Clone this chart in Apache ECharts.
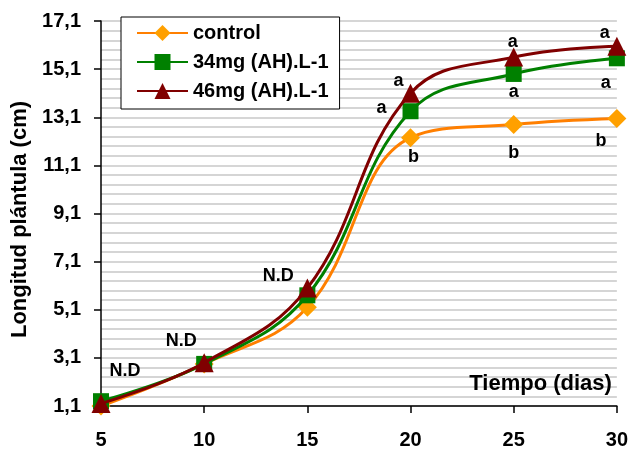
<!DOCTYPE html>
<html>
<head>
<meta charset="utf-8">
<script src="https://cdn.jsdelivr.net/npm/echarts@6/dist/echarts.min.js"></script>
<style>
html,body{margin:0;padding:0;background:#fff;}
#chart{width:631px;height:450px;}
</style>
</head>
<body>
<div id="chart"></div>
<script>
// ---- data ----
const days = [5, 10, 15, 20, 25, 30];
const seriesNames = ['control', '34mg (AH).L-1', '46mg (AH).L-1'];
const controlValues = [1.1, 2.85, 5.2, 12.25, 12.8, 13.05];
const dose34Values = [1.3, 2.85, 5.7, 13.35, 14.9, 15.55];
const dose46Values = [1.2, 2.9, 6.0, 14.1, 15.6, 16.05];
const controlLetters = ['', '', '', 'b', 'b', 'b'];
const dose34Letters = ['', '', '', 'a', 'a', 'a'];
const dose46Letters = ['N.D', 'N.D', 'N.D', 'a', 'a', 'a'];
const yTicks = [1.1, 3.1, 5.1, 7.1, 9.1, 11.1, 13.1, 15.1, 17.1];
const xTicks = [5, 10, 15, 20, 25, 30];

// ---- styling (label offsets in px, relative to the marker) ----
const controlOffsets = [[0,0],[0,0],[0,0],[3,19],[0,29],[-16,23]];
const dose34Offsets = [[0,0],[0,0],[0,0],[-29,-3],[0,18],[-11,25]];
const dose46Offsets = [[24,-33],[-23,-22],[-29,-12],[-12,-12],[-1,-15],[-12,-13]];

const FONT = 'Liberation Sans, Arial, sans-serif';

function buildData(values, letters, offsets) {
  return values.map((v, i) => ({
    value: [days[i], v],
    label: {
      show: letters[i] !== '',
      formatter: letters[i],
      position: 'inside',
      offset: offsets[i],
      color: '#000',
      fontFamily: FONT,
      fontWeight: 'bold',
      fontSize: 18
    }
  }));
}

const chart = echarts.init(document.getElementById('chart'), null, {renderer: 'canvas'});
chart.setOption({
  animation: false,
  backgroundColor: '#fff',
  grid: {left: 101, right: 12, top: 21, bottom: 42, containLabel: false},
  legend: {
    orient: 'vertical',
    left: 121,
    top: 17,
    padding: [6, 11, 8, 15],
    itemWidth: 51,
    itemHeight: 20,
    itemGap: 9,
    borderColor: '#000',
    borderWidth: 1,
    backgroundColor: '#fff',
    data: seriesNames,
    textStyle: {fontFamily: FONT, fontWeight: 'bold', fontSize: 20, color: '#000'}
  },
  xAxis: {
    type: 'value',
    min: xTicks[0],
    max: xTicks[xTicks.length - 1],
    interval: 5,
    name: 'Tiempo (dias)',
    nameLocation: 'end',
    nameGap: -5,
    nameTextStyle: {
      fontFamily: FONT, fontWeight: 'bold', fontSize: 22, color: '#000',
      align: 'right', verticalAlign: 'bottom', padding: [0, 0, 11, 0]
    },
    axisLine: {show: true, lineStyle: {color: '#000', width: 1.5}},
    axisTick: {show: true, length: 7, lineStyle: {color: '#000', width: 1.5}},
    axisLabel: {
      margin: 24, color: '#000', fontFamily: FONT, fontWeight: 'bold', fontSize: 20
    },
    splitLine: {show: false}
  },
  yAxis: {
    type: 'value',
    min: yTicks[0],
    max: yTicks[yTicks.length - 1],
    interval: 2,
    name: 'Longitud plántula (cm)',
    nameLocation: 'middle',
    nameGap: 63,
    nameRotate: 90,
    nameTextStyle: {
      fontFamily: FONT, fontWeight: 'bold', fontSize: 22, color: '#000',
      padding: [0, 12, 0, 0]
    },
    axisLine: {show: true, lineStyle: {color: '#000', width: 1.5}},
    axisTick: {show: true, length: 7, lineStyle: {color: '#000', width: 1.5}},
    axisLabel: {
      margin: 20, color: '#000', fontFamily: FONT, fontWeight: 'bold', fontSize: 20,
      formatter: v => v.toFixed(1).replace('.', ',')
    },
    splitLine: {show: true, lineStyle: {color: '#c8c8c8', width: 1.5}},
    minorTick: {show: false, splitNumber: 5},
    minorSplitLine: {show: true, lineStyle: {color: '#c8c8c8', width: 1.5}}
  },
  series: [
    {
      name: seriesNames[0], type: 'line', smooth: 0.4,
      data: buildData(controlValues, controlLetters, controlOffsets),
      symbol: 'diamond', symbolSize: 19,
      lineStyle: {color: '#ff7f00', width: 3},
      itemStyle: {color: '#ffa000'},
      color: '#ffa000',
      z: 2
    },
    {
      name: seriesNames[1], type: 'line', smooth: 0.4,
      data: buildData(dose34Values, dose34Letters, dose34Offsets),
      symbol: 'rect', symbolSize: 16,
      lineStyle: {color: '#008000', width: 3},
      itemStyle: {color: '#008000'},
      color: '#008000',
      z: 3
    },
    {
      name: seriesNames[2], type: 'line', smooth: 0.4,
      data: buildData(dose46Values, dose46Letters, dose46Offsets),
      symbol: 'triangle', symbolSize: 19,
      lineStyle: {color: '#800000', width: 3},
      itemStyle: {color: '#800000'},
      color: '#800000',
      z: 4
    }
  ]
});
</script>
</body>
</html>
